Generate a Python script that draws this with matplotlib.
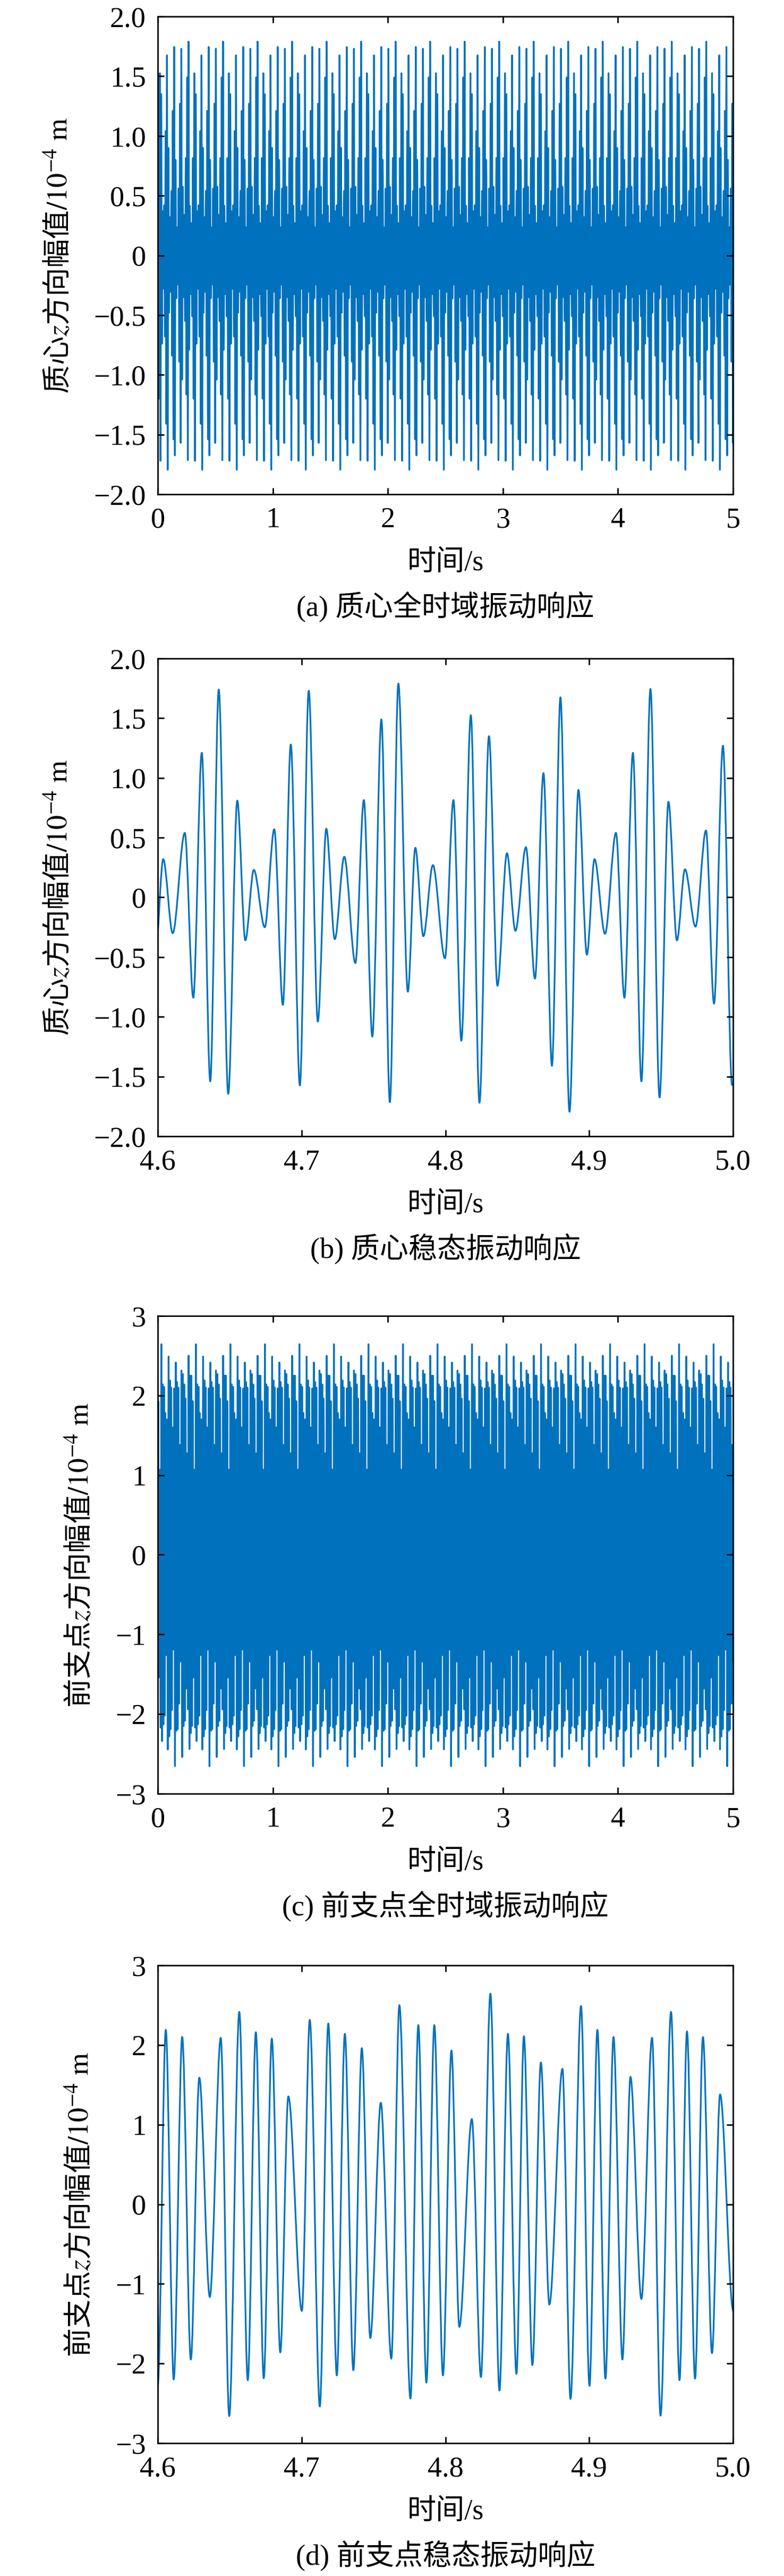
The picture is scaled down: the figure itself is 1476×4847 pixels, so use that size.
import numpy as np
import matplotlib
matplotlib.use('Agg')
import matplotlib.pyplot as plt
from matplotlib.path import Path
from matplotlib.patches import PathPatch

plt.rcParams['font.family'] = ['Liberation Serif', 'Noto Sans CJK SC']
plt.rcParams['mathtext.fontset'] = 'stix'
plt.rcParams['axes.unicode_minus'] = True

# Centre-of-mass z response, 4.6-5.0 s: turning points
# (time in s, amplitude in 1e-4 m)
cm_t = [4.5984, 4.6038, 4.6104, 4.6188, 4.6247, 4.6306, 4.6365, 4.6424, 4.6490, 4.6553,
        4.6609, 4.6668, 4.6744, 4.6810, 4.6870, 4.6925, 4.6988, 4.7050, 4.7113, 4.7172,
        4.7231, 4.7297, 4.7374, 4.7433, 4.7492, 4.7555, 4.7614, 4.7673, 4.7739, 4.7791,
        4.7847, 4.7913, 4.7997, 4.8056, 4.8111, 4.8177, 4.8237, 4.8303, 4.8362, 4.8428,
        4.8487, 4.8560, 4.8623, 4.8682, 4.8741, 4.8800, 4.8863, 4.8925, 4.8984, 4.9037,
        4.9110, 4.9186, 4.9245, 4.9304, 4.9363, 4.9426, 4.9489, 4.9551, 4.9610, 4.9666,
        4.9739, 4.9812, 4.9868, 4.9930, 4.9993]
cm_y = [-0.48, 0.32, -0.30, 0.54, -0.84, 1.21, -1.54, 1.74, -1.645, 0.81,
        -0.36, 0.23, -0.25, 0.57, -0.90, 1.28, -1.575, 1.73, -1.04, 0.575,
        -0.35, 0.34, -0.55, 0.815, -1.165, 1.49, -1.715, 1.79, -0.79, 0.415,
        -0.325, 0.27, -0.51, 0.815, -1.20, 1.525, -1.72, 1.35, -0.74, 0.37,
        -0.28, 0.42, -0.68, 1.04, -1.41, 1.675, -1.795, 0.90, -0.48, 0.32,
        -0.305, 0.54, -0.84, 1.21, -1.54, 1.745, -1.675, 0.80, -0.36, 0.235,
        -0.245, 0.56, -0.89, 1.27, -1.57]

# Front support point z response, 4.6-5.0 s: turning points
fs_t = [4.6000, 4.6056, 4.6111, 4.6170, 4.6230, 4.6289, 4.6362, 4.6438, 4.6497, 4.6567,
        4.6626, 4.6682, 4.6737, 4.6793, 4.6852, 4.6908, 4.7002, 4.7057, 4.7127, 4.7186,
        4.7245, 4.7301, 4.7360, 4.7419, 4.7478, 4.7551, 4.7624, 4.7680, 4.7757, 4.7812,
        4.7868, 4.7923, 4.7983, 4.8042, 4.8097, 4.8184, 4.8247, 4.8313, 4.8376, 4.8435,
        4.8494, 4.8546, 4.8605, 4.8664, 4.8723, 4.8814, 4.8870, 4.8943, 4.9002, 4.9057,
        4.9113, 4.9169, 4.9231, 4.9287, 4.9363, 4.9437, 4.9496, 4.9569, 4.9628, 4.9680,
        4.9736, 4.9791, 4.9854, 4.9910, 5.0002]
fs_y = [-2.28, 2.19, -2.20, 2.10, -1.95, 1.59, -1.165, 2.09, -2.66, 2.415,
        -2.21, 2.16, -2.185, 2.08, -1.86, 1.355, -1.34, 2.315, -2.54, 2.27,
        -2.15, 2.14, -2.085, 1.96, -1.68, 1.275, -1.94, 2.50, -2.44, 2.25,
        -2.24, 2.25, -2.15, 1.93, -1.54, 1.07, -2.17, 2.645, -2.34, 2.14,
        -2.13, 2.11, -2.02, 1.78, -1.26, 1.70, -2.445, 2.49, -2.28, 2.19,
        -2.19, 2.10, -1.95, 1.60, -1.19, 2.09, -2.655, 2.415, -2.21, 2.17,
        -2.19, 2.10, -1.87, 1.38, -1.34]

# steady state repeats every 0.3 s in panels (b) and (d)
period = 0.3

ticks_cm = [-2.0, -1.5, -1.0, -0.5, 0, 0.5, 1.0, 1.5, 2.0]
ticklabels_cm = ['\u22122.0', '\u22121.5', '\u22121.0', '\u22120.5', '0', '0.5', '1.0', '1.5', '2.0']
ticks_fs = [-3, -2, -1, 0, 1, 2, 3]
ticklabels_fs = ['\u22123', '\u22122', '\u22121', '0', '1', '2', '3']
xticks_full = [0, 1, 2, 3, 4, 5]
xticklabels_full = ['0', '1', '2', '3', '4', '5']
xticks_zoom = [4.6, 4.7, 4.8, 4.9, 5.0]
xticklabels_zoom = ['4.6', '4.7', '4.8', '4.9', '5.0']

ylabel_cm = '质心$z$方向幅值$/10^{-4}\\ \\mathrm{m}$'
ylabel_fs = '前支点$z$方向幅值$/10^{-4}\\ \\mathrm{m}$'
captions = ['(a) 质心全时域振动响应', '(b) 质心稳态振动响应',
            '(c) 前支点全时域振动响应', '(d) 前支点稳态振动响应']


def full_series(t, y):
    # lay the measured 0.3 s steady-state cycle over the whole 0-5 s record
    t = np.asarray(t)
    y = np.asarray(y)
    sel = (t >= 4.7) & (t < 5.0)
    ct, cy = t[sel], y[sel]
    ts, ys = [], []
    for k in range(17, -2, -1):
        ts.append(ct - period * k)
        ys.append(cy)
    return np.concatenate(ts), np.concatenate(ys)


def wave_path(t, y):
    # smooth curve through the turning points (flat tangent at each one)
    verts = [(t[0], y[0])]
    codes = [Path.MOVETO]
    for i in range(1, len(t)):
        d = (t[i] - t[i - 1]) / 3.0
        verts += [(t[i - 1] + d, y[i - 1]), (t[i] - d, y[i]), (t[i], y[i])]
        codes += [Path.CURVE4] * 3
    return Path(verts, codes)


W, H = 1476, 4847
left_px, right_px = 297, 1380
tops_px = [31, 1239, 2476, 3698]
ah_px = 899
fs_txt = 39
blue = '#0072BD'

fig = plt.figure(figsize=(W / 100, H / 100), dpi=100)

cm_full = full_series(cm_t, cm_y)
fs_full = full_series(fs_t, fs_y)

panels = [
    (cm_full[0], cm_full[1], (0, 5), xticks_full, xticklabels_full, (-2, 2), ticks_cm, ticklabels_cm, ylabel_cm, 110),
    (np.array(cm_t), np.array(cm_y), (4.6, 5.0), xticks_zoom, xticklabels_zoom, (-2, 2), ticks_cm, ticklabels_cm, ylabel_cm, 110),
    (fs_full[0], fs_full[1], (0, 5), xticks_full, xticklabels_full, (-3, 3), ticks_fs, ticklabels_fs, ylabel_fs, 150),
    (np.array(fs_t), np.array(fs_y), (4.6, 5.0), xticks_zoom, xticklabels_zoom, (-3, 3), ticks_fs, ticklabels_fs, ylabel_fs, 150),
]

for i, (t, y, xlim, xt, xtl, ylim, yt, ytl, ylab, ylab_x) in enumerate(panels):
    ax = fig.add_axes([left_px / W, 1 - (tops_px[i] + ah_px) / H,
                       (right_px - left_px) / W, ah_px / H])
    patch = PathPatch(wave_path(t, y), fill=False, edgecolor=blue, lw=2.3,
                      joinstyle='round', capstyle='round')
    ax.add_patch(patch)
    ax.set_xlim(*xlim)
    ax.set_ylim(*ylim)
    ax.set_xticks(xt)
    ax.set_xticklabels(xtl)
    ax.set_yticks(yt)
    ax.set_yticklabels(ytl)
    ax.tick_params(direction='in', top=True, right=True, length=8.6, width=2,
                   labelsize=fs_txt)
    ax.tick_params(axis='x', pad=17)
    ax.tick_params(axis='y', pad=16)
    for s in ax.spines.values():
        s.set_linewidth(2)

    ax.set_xlabel('时间/s', fontsize=fs_txt, va='center')
    ax.xaxis.set_label_coords(0.5, -130 / ah_px)
    ax.set_ylabel(ylab, fontsize=fs_txt, va='center', family='Noto Sans CJK SC')
    ax.yaxis.set_label_coords((ylab_x - left_px) / (right_px - left_px), 0.5)
    ax.text(0.5, -212 / ah_px, captions[i], transform=ax.transAxes,
            ha='center', va='center', fontsize=fs_txt)

fig.savefig('out.png', dpi=100)
